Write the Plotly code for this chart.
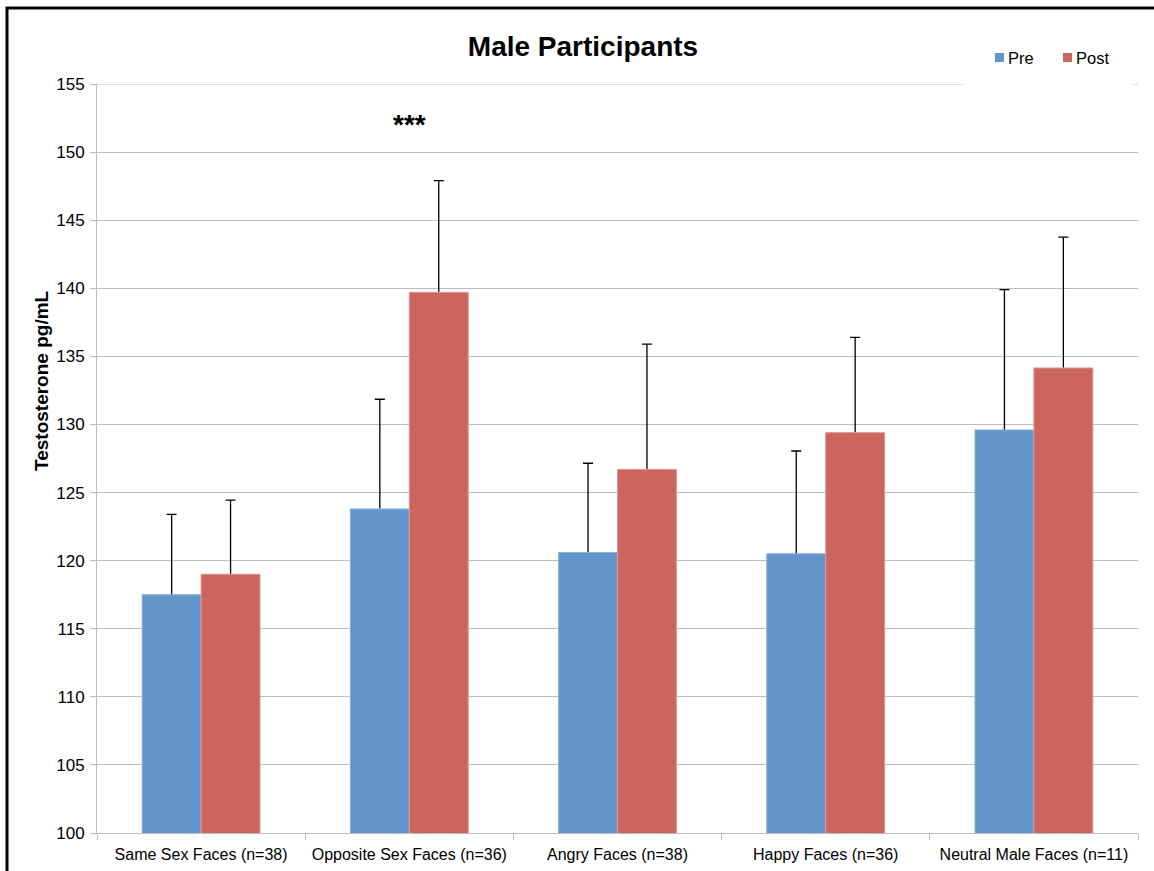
import plotly.graph_objects as go

# Salivary testosterone before/after viewing face sets (male participants)
categories = [
    "Same Sex Faces (n=38)",
    "Opposite Sex Faces (n=36)",
    "Angry Faces (n=38)",
    "Happy Faces (n=36)",
    "Neutral Male Faces (n=11)",
]
pre_mean = [117.5, 123.8, 120.6, 120.5, 129.6]
post_mean = [119.0, 139.7, 126.7, 129.4, 134.15]
pre_err = [5.9, 8.05, 6.55, 7.55, 10.3]
post_err = [5.45, 8.2, 9.2, 7.0, 9.6]

y_ticks = list(range(100, 156, 5))

PRE_COLOR = "#6296CB"
POST_COLOR = "#CC655E"
GRID = "#BEBEBE"
FONT = "Arial, Liberation Sans, sans-serif"

W, H = 1154, 871
M_L, M_R, M_T, M_B = 97, 16, 84, 38
PLOT_W = W - M_L - M_R
PLOT_H = H - M_T - M_B


def px_x(px):
    """Pixel column -> paper x."""
    return (px - M_L) / PLOT_W


def px_y(py):
    """Pixel row -> paper y."""
    return (H - M_B - py) / PLOT_H


fig = go.Figure()

# Error bars (upper only) drawn first; the bars drawn afterwards hide the lower end
for name, vals, errs, color in [
    ("Pre", pre_mean, pre_err, PRE_COLOR),
    ("Post", post_mean, post_err, POST_COLOR),
]:
    fig.add_trace(go.Bar(
        x=categories, y=vals, name=name, offsetgroup=name,
        marker=dict(color=color, line=dict(width=0)),
        error_y=dict(type="data", symmetric=False, array=errs,
                     arrayminus=[0.6] * len(errs),
                     color="black", thickness=1.3, width=5),
        showlegend=False, hoverinfo="skip",
    ))

for name, vals, color, light in [
    ("Pre", pre_mean, PRE_COLOR, "#8FB4DC"),
    ("Post", post_mean, POST_COLOR, "#DE9A95"),
]:
    fig.add_trace(go.Bar(
        x=categories, y=vals, name=name, offsetgroup=name,
        marker=dict(color=color, line=dict(width=1, color=light)),
        showlegend=False,
    ))

fig.add_annotation(
    x=categories[1], y=152.0, xref="x", yref="y",
    text="<b>***</b>", showarrow=False,
    font=dict(family=FONT, size=28, color="black"),
)

# Rotated y-axis title
fig.add_annotation(
    x=px_x(41), y=px_y(381), xref="paper", yref="paper",
    xanchor="center", yanchor="middle",
    text="<b>Testosterone pg/mL</b>", textangle=-90, showarrow=False,
    font=dict(family=FONT, size=19, color="black"),
)

# Legend: small swatches followed by the series names
legend_items = [("Pre", PRE_COLOR, 995), ("Post", POST_COLOR, 1063)]
shapes = []
for label, color, left in legend_items:
    shapes.append(dict(type="rect", xref="paper", yref="paper",
                       x0=px_x(left), x1=px_x(left + 9),
                       y0=px_y(62), y1=px_y(53),
                       line=dict(width=0), fillcolor=color))
    fig.add_annotation(
        x=px_x(left + 11), y=px_y(58), xref="paper", yref="paper",
        xanchor="left", yanchor="middle", text=label, showarrow=False,
        font=dict(family=FONT, size=16.5, color="black"),
    )

# top gridline at the upper end of the value range
shapes.append(dict(type="line", xref="paper", yref="y", layer="below",
                   x0=0, x1=1, y0=y_ticks[-1], y1=y_ticks[-1],
                   line=dict(color=GRID, width=1)))
# outer frame
shapes.append(dict(type="rect", xref="paper", yref="paper",
                   x0=px_x(7), x1=px_x(W + 20), y0=px_y(H + 20), y1=px_y(8),
                   line=dict(color="black", width=3), fillcolor="rgba(0,0,0,0)"))
# white backing behind the legend
shapes.append(dict(type="rect", xref="paper", yref="paper", layer="above",
                   x0=px_x(963), x1=px_x(1133), y0=px_y(90), y1=px_y(78),
                   line=dict(width=0), fillcolor="white"))

fig.update_layout(
    width=W, height=H,
    margin=dict(l=M_L, r=M_R, t=M_T, b=M_B, autoexpand=False),
    paper_bgcolor="white", plot_bgcolor="white",
    barmode="group", bargap=0.434, bargroupgap=0,
    showlegend=False,
    font=dict(family=FONT, size=16, color="black"),
    title=dict(text="<b>Male Participants</b>", x=583 / W, xanchor="center",
               y=1 - 46 / H, yanchor="middle", xref="container", yref="container",
               font=dict(family=FONT, size=28, color="black")),
    shapes=shapes,
    xaxis=dict(type="category", showline=True, linecolor=GRID, linewidth=1,
               ticks="outside", tickson="boundaries", ticklen=6, tickcolor=GRID,
               showgrid=False, ticklabelstandoff=7, automargin=False,
               tickfont=dict(family=FONT, size=16, color="black")),
    yaxis=dict(range=[100, 155], tickvals=y_ticks, showline=True, linecolor=GRID,
               linewidth=1, ticks="outside", ticklen=6, tickcolor=GRID,
               showgrid=True, gridcolor=GRID, gridwidth=1, zeroline=False,
               ticklabelstandoff=2, automargin=False,
               tickfont=dict(family=FONT, size=17, color="black")),
)

fig.write_html("out.html")
